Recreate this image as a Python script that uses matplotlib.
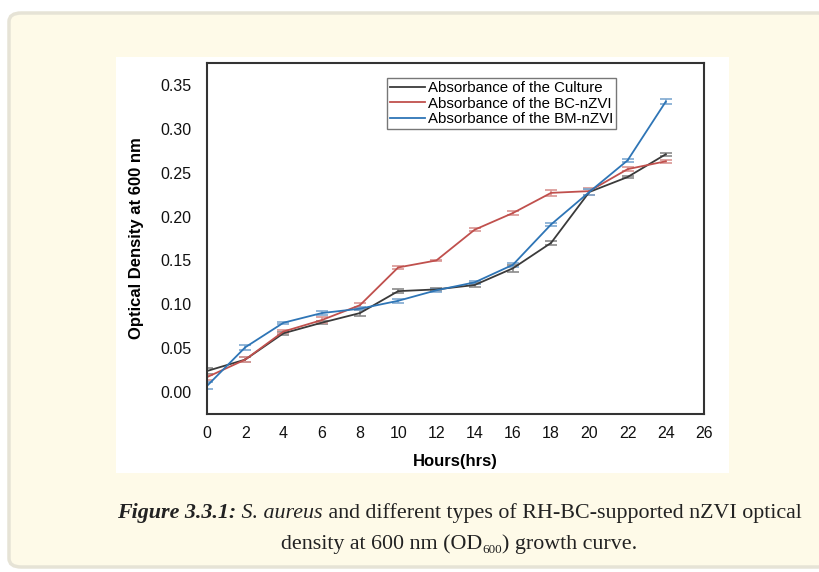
import numpy as np
import matplotlib
matplotlib.use("Agg")
import matplotlib.pyplot as plt
from matplotlib.patches import FancyBboxPatch, Rectangle
from matplotlib.lines import Line2D

# values
hours = [0, 2, 4, 6, 8, 10, 12, 14, 16, 18, 20, 22, 24]
culture = [0.024, 0.037, 0.067, 0.079, 0.090, 0.115, 0.117, 0.122, 0.141, 0.170, 0.228, 0.245, 0.271]
culture_err = [0.003, 0.003, 0.002, 0.002, 0.003, 0.002, 0.002, 0.002, 0.004, 0.002, 0.003, 0.001, 0.002]
bc_nzvi = [0.017, 0.037, 0.069, 0.082, 0.099, 0.142, 0.150, 0.185, 0.204, 0.227, 0.229, 0.254, 0.263]
bc_err = [0.003, 0.003, 0.002, 0.003, 0.003, 0.002, 0.001, 0.002, 0.002, 0.003, 0.004, 0.002, 0.002]
bm_nzvi = [0.007, 0.051, 0.079, 0.090, 0.095, 0.104, 0.116, 0.125, 0.145, 0.191, 0.228, 0.264, 0.331]
bm_err = [0.004, 0.003, 0.001, 0.002, 0.002, 0.002, 0.002, 0.002, 0.002, 0.002, 0.003, 0.002, 0.003]

labels = ["Absorbance of the Culture", "Absorbance of the BC-nZVI", "Absorbance of the BM-nZVI"]
x_ticks = list(range(0, 27, 2))
y_ticks = [0.00, 0.05, 0.10, 0.15, 0.20, 0.25, 0.30, 0.35]

W, H = 819, 572
fig = plt.figure(figsize=(W / 100, H / 100), dpi=100)
plt.rcParams['font.family'] = ['Liberation Sans', 'DejaVu Sans']

def fx(px):
    return px / W

def fy(py):
    return 1 - py / H

# cream card behind everything
card = FancyBboxPatch((fx(9), fy(567)), fx(830) - fx(9), fy(13) - fy(567),
                      boxstyle="round,pad=0,rounding_size=0.015",
                      transform=fig.transFigure, facecolor="#fefae8",
                      edgecolor="#e6e3d6", linewidth=2.5, zorder=0)
fig.patches.append(card)
# white panel holding the chart image
panel = Rectangle((fx(116), fy(473)), fx(729) - fx(116), fy(57) - fy(473),
                  transform=fig.transFigure, facecolor="white", edgecolor="none", zorder=1)
fig.patches.append(panel)

ax = fig.add_axes([fx(207), fy(414), fx(704) - fx(207), fy(63) - fy(414)])
ax.set_zorder(2)

series = [(culture, culture_err, "#3a3a3a", "#8a8a8a"),
          (bc_nzvi, bc_err, "#c0504d", "#d99694"),
          (bm_nzvi, bm_err, "#2e75b6", "#7fa9d1")]
handles = []
for (vals, err, c, ec), lab in zip(series, labels):
    ax.errorbar(hours, vals, yerr=err, color=c, ecolor=ec, elinewidth=1.2,
                capsize=4, capthick=1.2, linewidth=1.3)
    handles.append(Line2D([], [], color=c, linewidth=1.3, label=lab))

ax.set_xlim(0, 26)
ax.set_ylim(-0.025, 0.375)
ax.set_xticks(x_ticks)
ax.set_yticks(y_ticks)
ax.set_yticklabels([f"{v:.2f}" for v in y_ticks])
ax.tick_params(length=0, labelsize=11.5, colors="#111111")
ax.tick_params(axis="y", pad=11)
ax.tick_params(axis="x", pad=9)
for s in ax.spines.values():
    s.set_color("#333333")
    s.set_linewidth(1.5)

ax.set_xlabel("Hours(hrs)", fontsize=12, fontweight="bold", labelpad=9)
ax.set_ylabel("Optical Density at 600 nm", fontsize=12, fontweight="bold", labelpad=12)

leg = ax.legend(handles=handles, loc="upper left",
                bbox_to_anchor=(fx(387 - 207) / fx(704 - 207), 1 - (78 - 63) / (414 - 63)),
                fontsize=10.8, frameon=True, fancybox=False, borderpad=0.2,
                handlelength=2.3, handletextpad=0.2, labelspacing=0.1, borderaxespad=0)
leg.get_frame().set_edgecolor("#555555")
leg.get_frame().set_linewidth(1.0)

# caption, built from pieces so styles can mix on one line
serif = ['Liberation Serif', 'DejaVu Serif']
renderer = fig.canvas.get_renderer()

def caption_line(pieces, y_px, size, cx=459):
    texts = []
    for txt, style, weight, scale, dy in pieces:
        t = fig.text(0, fy(y_px + dy), txt, fontsize=size * scale, style=style,
                     weight=weight, family=serif, va="baseline", color="#222222", zorder=3)
        texts.append(t)
    widths = [t.get_window_extent(renderer).width for t in texts]
    x = cx - sum(widths) / 2
    for t, w in zip(texts, widths):
        t.set_x(fx(x))
        x += w

caption_line([("Figure 3.3.1:", "italic", "bold", 1, 0),
              (" S. aureus", "italic", "normal", 1, 0),
              (" and different types of RH-BC-supported nZVI optical", "normal", "normal", 1, 0)],
             518, 15.8)
caption_line([("density at 600 nm (OD", "normal", "normal", 1, 0),
              ("600", "normal", "normal", 0.6, 4),
              (") growth curve.", "normal", "normal", 1, 0)],
             549, 15.8)

fig.savefig("out.png", dpi=100)
